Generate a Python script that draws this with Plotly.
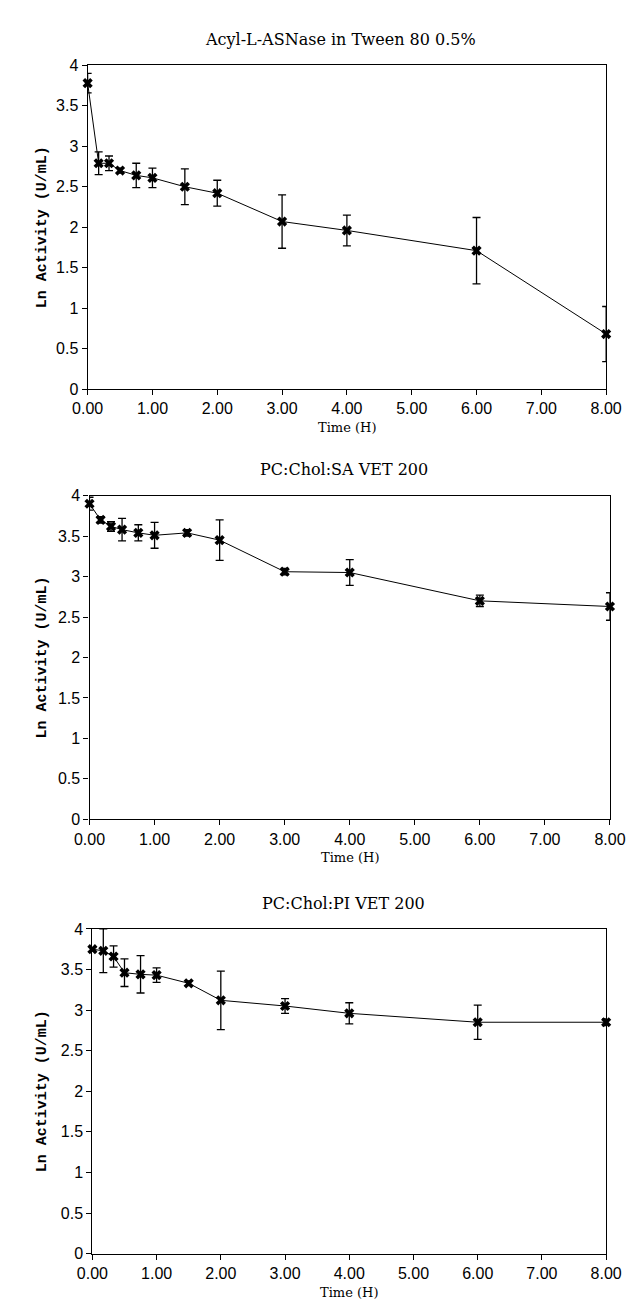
import plotly.graph_objects as go

# ---- data ----
time_h = [0, 0.17, 0.33, 0.5, 0.75, 1.0, 1.5, 2.0, 3.0, 4.0, 6.0, 8.0]

tween_y = [3.78, 2.79, 2.79, 2.70, 2.64, 2.61, 2.50, 2.42, 2.07, 1.96, 1.71, 0.68]
tween_err = [0.12, 0.14, 0.09, 0.03, 0.15, 0.12, 0.22, 0.16, 0.33, 0.19, 0.41, 0.34]

sa_y = [3.90, 3.70, 3.62, 3.58, 3.54, 3.51, 3.54, 3.45, 3.06, 3.05, 2.70, 2.63]
sa_err = [0.08, 0.04, 0.06, 0.14, 0.10, 0.16, 0.04, 0.25, 0.04, 0.16, 0.07, 0.17]

pi_y = [3.75, 3.73, 3.66, 3.46, 3.44, 3.43, 3.33, 3.12, 3.05, 2.96, 2.85, 2.85]
pi_err = [0.02, 0.27, 0.13, 0.17, 0.23, 0.09, 0.03, 0.36, 0.09, 0.13, 0.21, 0.04]

titles = ["Acyl-L-ASNase in Tween 80 0.5%", "PC:Chol:SA VET 200", "PC:Chol:PI VET 200"]
x_title = "Time (H)"
y_title = "Ln Activity (U/mL)"
x_ticks = [0, 1, 2, 3, 4, 5, 6, 7, 8]
y_ticks = [0, 0.5, 1, 1.5, 2, 2.5, 3, 3.5, 4]
y_ticktext = ["0", "0.5", "1", "1.5", "2", "2.5", "3", "3.5", "4"]

series = [(tween_y, tween_err), (sa_y, sa_err), (pi_y, pi_err)]

W, H = 636, 1299
# panel pixel boxes: (x_left, x_right, y_top, y_bottom)
boxes = [(67, 613, 50, 378), (69, 617, 486, 814), (72, 613, 925, 1254)]

fig = go.Figure()
tick_font = dict(family="Liberation Sans", size=16, color="black")
annotations = []

for i, ((yv, ev), (xl, xr, yt, yb)) in enumerate(zip(series, boxes)):
    n = "" if i == 0 else str(i + 1)
    fig.add_trace(go.Scatter(
        x=time_h, y=yv,
        mode="lines+markers",
        line=dict(color="black", width=1),
        marker=dict(symbol="x", size=9, color="black"),
        error_y=dict(type="data", array=ev, visible=True, color="black",
                     thickness=1.3, width=4),
        cliponaxis=False,
        showlegend=False,
        xaxis="x" + n, yaxis="y" + n,
    ))
    xdom = [xl / W, xr / W]
    ydom = [1 - yb / H, 1 - yt / H]
    fig.layout["xaxis" + n] = dict(
        domain=xdom, range=[0, 8], anchor="y" + n,
        tickvals=x_ticks, tickformat=".2f", ticks="outside", ticklen=5,
        tickcolor="black", showline=True, linecolor="black", linewidth=1.2,
        mirror=True, showgrid=False, zeroline=False, tickfont=tick_font,
    )
    fig.layout["yaxis" + n] = dict(
        domain=ydom, range=[0, 4], anchor="x" + n,
        tickvals=y_ticks, ticktext=y_ticktext, ticks="outside", ticklen=5,
        tickcolor="black", showline=True, linecolor="black", linewidth=1.2,
        mirror=True, showgrid=False, zeroline=False, tickfont=tick_font,
    )
    cx = (xl + xr) / 2
    # panel title
    annotations.append(dict(
        text=titles[i], x=cx / W - 0.01, y=1 - (yt - 26) / H,
        xref="paper", yref="paper", showarrow=False,
        xanchor="center", yanchor="middle",
        font=dict(family="DejaVu Serif", size=16, color="black"),
    ))
    # x title
    annotations.append(dict(
        text=x_title, x=cx / W, y=1 - (yb + 39) / H,
        xref="paper", yref="paper", showarrow=False,
        xanchor="center", yanchor="middle",
        font=dict(family="DejaVu Serif", size=13, color="black"),
    ))
    # y title
    annotations.append(dict(
        text=y_title, x=19 / W, y=1 - ((yt + yb) / 2) / H,
        xref="paper", yref="paper", showarrow=False, textangle=-90,
        xanchor="center", yanchor="middle",
        font=dict(family="Liberation Mono", size=15, color="black", weight="bold"),
    ))

fig.update_layout(
    width=W, height=H,
    margin=dict(l=0, r=0, t=0, b=0),
    paper_bgcolor="white", plot_bgcolor="white",
    annotations=annotations,
)

fig.write_html("out.html")
